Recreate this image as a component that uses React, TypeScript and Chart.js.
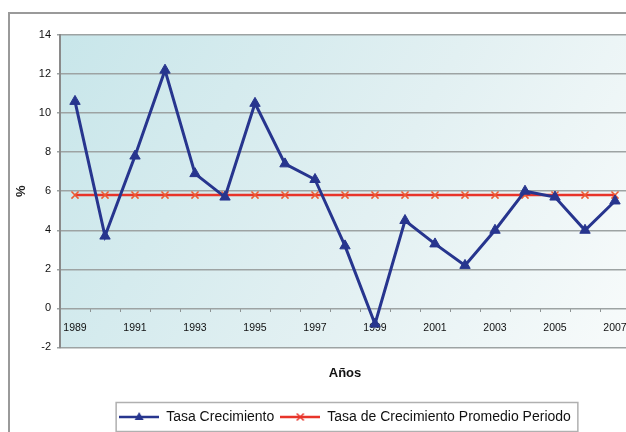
import React, { useEffect, useRef } from "react";
import { Chart, registerables } from "chart.js";

Chart.register(...registerables);

const YEARS = ["1989","1990","1991","1992","1993","1994","1995","1996","1997","1998","1999","2000","2001","2002","2003","2004","2005","2006","2007"];
const TASA_CRECIMIENTO = [10.6, 3.7, 7.8, 12.2, 6.9, 5.7, 10.5, 7.4, 6.6, 3.2, -0.8, 4.5, 3.3, 2.2, 4.0, 6.0, 5.7, 4.0, 5.5];
const TASA_PROMEDIO = [5.8, 5.8, 5.8, 5.8, 5.8, 5.8, 5.8, 5.8, 5.8, 5.8, 5.8, 5.8, 5.8, 5.8, 5.8, 5.8, 5.8, 5.8, 5.8];
const Y_MIN = -2;
const Y_MAX = 14;
const Y_STEP = 2;
const SERIES_LABELS = ["Tasa Crecimiento", "Tasa de Crecimiento Promedio Periodo"];
const X_TITLE = "Años";
const Y_TITLE = "%";

const BLUE = "#27358e";
const RED = "#e8342a";
const FONT = "'Liberation Sans', Arial, sans-serif";

function makeSymbol(color: string, kind: "triangle" | "cross") {
  const c = document.createElement("canvas");
  c.width = 40;
  c.height = 14;
  const ctx = c.getContext("2d")!;
  ctx.strokeStyle = color;
  ctx.lineWidth = 2.5;
  ctx.beginPath();
  ctx.moveTo(0, 7);
  ctx.lineTo(40, 7);
  ctx.stroke();
  if (kind === "triangle") {
    ctx.fillStyle = color;
    ctx.beginPath();
    ctx.moveTo(20, 2);
    ctx.lineTo(24.5, 10);
    ctx.lineTo(15.5, 10);
    ctx.closePath();
    ctx.fill();
  } else {
    ctx.lineWidth = 1.5;
    ctx.beginPath();
    ctx.moveTo(16.5, 3.5);
    ctx.lineTo(23.5, 10.5);
    ctx.moveTo(23.5, 3.5);
    ctx.lineTo(16.5, 10.5);
    ctx.stroke();
  }
  return c;
}

export default function App() {
  const ref = useRef<HTMLCanvasElement | null>(null);

  useEffect(() => {
    if (!ref.current) return;
    const symbols = [makeSymbol(BLUE, "triangle"), makeSymbol(RED, "cross")];

    const decor = {
      id: "decor",
      beforeDraw(chart: any) {
        const { ctx, chartArea: a } = chart;
        ctx.save();
        ctx.fillStyle = "#ffffff";
        ctx.fillRect(0, 0, chart.width, chart.height);
        ctx.strokeStyle = "#9a9a9a";
        ctx.lineWidth = 2;
        ctx.strokeRect(1, 5, chart.width + 20, chart.height + 20);
        const g = ctx.createLinearGradient(a.left, a.top, a.right, a.bottom);
        g.addColorStop(0, "#c8e6ea");
        g.addColorStop(0.55, "#e2f0f2");
        g.addColorStop(1, "#f8fbfb");
        ctx.fillStyle = g;
        ctx.fillRect(a.left, a.top, a.right - a.left, a.bottom - a.top);
        ctx.restore();
      },
      afterDraw(chart: any) {
        const hb = chart.legend?.legendHitBoxes;
        if (!hb || !hb.length) return;
        const { ctx } = chart;
        let l = Infinity, r = -Infinity, t = Infinity, b = -Infinity;
        hb.forEach((h: any) => {
          l = Math.min(l, h.left);
          r = Math.max(r, h.left + h.width);
          t = Math.min(t, h.top);
          b = Math.max(b, h.top + h.height);
        });
        ctx.save();
        ctx.strokeStyle = "#b0b0b0";
        ctx.lineWidth = 1.5;
        ctx.strokeRect(l - 3, t - 7.5, r - l + 10, b - t + 15);
        ctx.restore();
      },
    };

    const chart = new Chart(ref.current, {
      type: "line",
      data: {
        labels: YEARS,
        datasets: [
          {
            label: SERIES_LABELS[0],
            data: TASA_CRECIMIENTO,
            borderColor: BLUE,
            backgroundColor: BLUE,
            borderWidth: 3,
            pointStyle: "triangle",
            pointRadius: 6,
            pointBackgroundColor: BLUE,
            pointBorderColor: BLUE,
            pointBorderWidth: 1,
            tension: 0,
          },
          {
            label: SERIES_LABELS[1],
            data: TASA_PROMEDIO,
            borderColor: RED,
            backgroundColor: RED,
            borderWidth: 2.5,
            pointStyle: "crossRot",
            pointRadius: 5,
            pointBorderColor: "#ec5a32",
            pointBorderWidth: 1.5,
            tension: 0,
          },
        ],
      },
      options: {
        animation: false,
        responsive: false,
        layout: { padding: { left: 4, top: 27, right: 18, bottom: 0 } },
        plugins: {
          tooltip: { enabled: false },
          legend: {
            position: "bottom",
            fullSize: false,
            title: {
              display: true,
              text: X_TITLE,
              color: "#111",
              font: { family: FONT, size: 13, weight: "bold" },
              padding: { top: 20, bottom: 21 },
            },
            labels: {
              usePointStyle: true,
              pointStyleWidth: 40,
              padding: 6,
              color: "#111",
              font: { family: FONT, size: 14 },
              generateLabels: (c: any) =>
                c.data.datasets.map((ds: any, i: number) => ({
                  text: ds.label,
                  pointStyle: symbols[i],
                  fillStyle: "transparent",
                  strokeStyle: "transparent",
                  lineWidth: 0,
                  hidden: false,
                  datasetIndex: i,
                  fontColor: "#111",
                })),
            },
          },
        },
        scales: {
          x: {
            type: "category",
            position: { y: 0 } as any,
            offset: true,
            grid: {
              display: true,
              drawOnChartArea: false,
              drawTicks: true,
              tickLength: 4,
              offset: true,
              color: "#8e9494",
              lineWidth: 1,
            },
            border: { display: false },
            ticks: {
              autoSkip: false,
              maxRotation: 0,
              padding: 9,
              color: "#111",
              font: { family: FONT, size: 10.5 },
              callback: (_v: any, i: number) => (i % 2 === 0 ? YEARS[i] : ""),
            },
          },
          y: {
            min: Y_MIN,
            max: Y_MAX,
            afterFit: (s: any) => {
              s.width = 48;
            },
            grid: {
              color: "#9da3a3",
              lineWidth: 1.5,
              drawTicks: true,
              tickLength: 3,
            },
            border: { display: true, color: "#8a8a8a", width: 2 },
            ticks: {
              stepSize: Y_STEP,
              padding: 6,
              color: "#111",
              font: { family: FONT, size: 11 },
            },
            title: {
              display: true,
              text: Y_TITLE,
              color: "#222",
              font: { family: FONT, size: 13, weight: "bold" },
              padding: { top: 2, bottom: 0 },
            },
          },
        },
      },
      plugins: [decor],
    } as any);

    return () => chart.destroy();
  }, []);

  return (
    <div
      style={{
        position: "fixed",
        left: 0,
        top: 0,
        width: 626,
        height: 432,
        overflow: "hidden",
        background: "#ffffff",
      }}
    >
      <canvas
        ref={ref}
        width={640}
        height={426}
        style={{ display: "block", position: "absolute", left: 8, top: 8 }}
      />
    </div>
  );
}
